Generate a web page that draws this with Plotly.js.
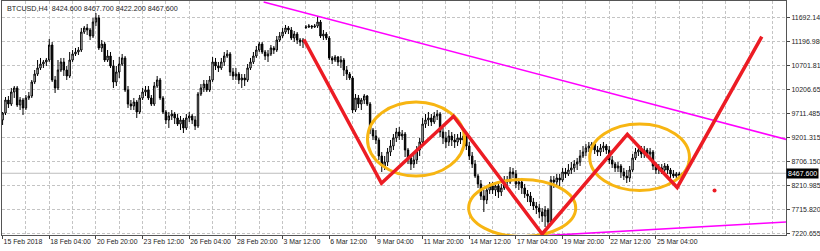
<!DOCTYPE html>
<html>
<head>
<meta charset="utf-8">
<script src="https://cdn.plot.ly/plotly-3.0.1.min.js"></script>
<style>
  html, body { margin: 0; padding: 0; background: #fff; }
  #chart { width: 820px; height: 251px; }
</style>
</head>
<body>
<div id="chart"></div>
<script>
// ---- Instrument ----
const symbol = 'BTCUSD';
const timeframe = 'H4';

// ---- H4 bars (oldest first) ----
const barOpen = [
  9570, 9715, 9984, 9901, 10150, 10233, 9881, 9984, 9819, 10026,
  10067, 10357, 10522, 10647, 10729, 10771, 10812, 11123, 10398, 10233,
  10605, 10771, 10605, 10481, 10812, 10937, 10978, 11019, 11391, 11475,
  11433, 11309, 11599, 11682, 11061, 11143, 10812, 10895, 10688, 10357,
  10564, 10729, 10854, 10191, 9901, 9860, 9943, 9736, 10026, 10150,
  10191, 10026, 9901, 10274, 10398, 10026, 9736, 9570, 9653, 9694,
  9612, 9487, 9570, 9405, 9612, 9653, 9570, 9446, 10108, 10233,
  10315, 10191, 10398, 10771, 10688, 10647, 10771, 10895, 10937, 10564,
  10481, 10522, 10398, 10440, 10398, 10647, 10771, 10895, 11019, 11143,
  10978, 10895, 10937, 11061, 11019, 11226, 11309, 11391, 11475, 11433,
  11267, 11350, 11226, 11185, 11485, 11495, 11516, 11495, 11516, 11599,
  11309, 11350, 11267, 10854, 10812, 10874, 10771, 10812, 10605, 10522,
  10440, 9777, 10026, 9901, 9984, 10067, 9901, 9363, 9239, 9156,
  8825, 8618, 8701, 8908, 9032, 9198, 9322, 9239, 9280, 8949,
  8784, 8659, 8742, 8949, 9115, 9487, 9570, 9612, 9529, 9653,
  9694, 9322, 9198, 9115, 9239, 9156, 9115, 9198, 9156, 9239,
  9032, 8825, 8659, 8411, 8246, 7997, 7914, 8121, 8204, 8121,
  8204, 8080, 8163, 8328, 8287, 8494, 8453, 8246, 8287, 8163,
  8039, 7997, 7873, 7790, 7749, 7666, 7583, 7707, 7459, 8328,
  8287, 8370, 8328, 8494, 8453, 8535, 8577, 8659, 8701, 8825,
  8908, 8991, 9032, 9073, 8949, 8908, 8991, 9032, 8949, 8742,
  8659, 8577, 8618, 8494, 8411, 8370, 8535, 8784, 8908, 8949,
  8866, 8949, 8866, 8908, 8618, 8535, 8577, 8535, 8618, 8535,
  8453, 8411, 8453, 8424.6
];
const barHigh = [
  9736, 10046, 10067, 10233, 10274, 10274, 10046, 10026, 10088, 10150,
  10398, 10605, 10812, 10854, 10812, 10854, 11247, 11185, 10481, 10812,
  10854, 10854, 10688, 10978, 11019, 11061, 11081, 11475, 11516, 11558,
  11475, 11682, 11785, 11744, 11226, 11185, 11019, 10978, 10812, 10688,
  10874, 10937, 10895, 10274, 9984, 10026, 9984, 10088, 10233, 10274,
  10274, 10088, 10357, 10481, 10440, 10067, 9777, 9736, 9777, 9736,
  9694, 9653, 9612, 9694, 9736, 9694, 9653, 10150, 10315, 10398,
  10398, 10481, 10874, 10854, 10771, 10854, 10978, 11019, 10978, 10647,
  10647, 10564, 10522, 10522, 10729, 10854, 10978, 11102, 11185, 11185,
  11019, 11019, 11123, 11102, 11309, 11391, 11475, 11537, 11516, 11495,
  11413, 11391, 11267, 11267, 11537, 11558, 11537, 11558, 11723, 11640,
  11433, 11391, 11309, 10895, 10916, 10895, 10895, 10854, 10688, 10564,
  10481, 10108, 10088, 10026, 10108, 10088, 9943, 9405, 9363, 9198,
  8908, 8825, 8991, 9156, 9280, 9405, 9425, 9363, 9322, 8991,
  8866, 8846, 9032, 9198, 9612, 9694, 9736, 9694, 9736, 9777,
  9736, 9405, 9322, 9363, 9322, 9280, 9280, 9322, 9363, 9280,
  9115, 8908, 8742, 8453, 8328, 8121, 8204, 8287, 8287, 8287,
  8287, 8246, 8411, 8411, 8597, 8577, 8535, 8370, 8370, 8246,
  8121, 8080, 7956, 7873, 7831, 7749, 7790, 7749, 8411, 8411,
  8453, 8453, 8577, 8577, 8659, 8701, 8742, 8784, 8949, 9032,
  9073, 9115, 9115, 9115, 9032, 9073, 9115, 9073, 9032, 8825,
  8701, 8701, 8659, 8577, 8535, 8618, 8866, 8991, 9032, 9032,
  9032, 8991, 8991, 8949, 8701, 8659, 8659, 8680, 8659, 8577,
  8535, 8494, 8494, 8467.7
];
const barLow = [
  9467, 9674, 9819, 9860, 10026, 9839, 9777, 9674, 9777, 9984,
  10026, 10315, 10481, 10605, 10647, 10688, 10771, 10357, 10129, 10191,
  10564, 10481, 10398, 10440, 10771, 10895, 10916, 10978, 11350, 11330,
  11226, 11267, 11516, 11019, 10978, 10771, 10771, 10647, 10233, 10274,
  10440, 10688, 10150, 9819, 9777, 9777, 9612, 9694, 9984, 10067,
  9984, 9860, 9860, 10233, 9984, 9694, 9487, 9405, 9570, 9487,
  9446, 9363, 9301, 9363, 9529, 9487, 9363, 9405, 10067, 10150,
  10150, 10150, 10357, 10605, 10564, 10605, 10688, 10854, 10481, 10398,
  10398, 10315, 10233, 10274, 10357, 10605, 10729, 10854, 10978, 10937,
  10812, 10771, 10895, 10937, 10978, 11185, 11267, 11350, 11350, 11226,
  11185, 11143, 11102, 11061, 11454, 11475, 11454, 11475, 11475, 11267,
  11226, 11226, 10812, 10729, 10771, 10688, 10647, 10481, 10398, 10398,
  9715, 9736, 9819, 9777, 9901, 9860, 9280, 9156, 9073, 8742,
  8494, 8535, 8618, 8825, 8949, 9115, 9156, 9156, 8804, 8659,
  8535, 8577, 8659, 8825, 9073, 9405, 9446, 9446, 9487, 9570,
  9218, 9073, 8991, 9032, 9032, 8991, 9032, 9073, 9115, 8949,
  8742, 8577, 8370, 8163, 7914, 7666, 7831, 8039, 8039, 7997,
  7956, 7997, 8121, 8163, 8246, 8370, 8163, 8121, 8039, 7956,
  7873, 7790, 7707, 7624, 7542, 7459, 7355, 7376, 7417, 8163,
  8204, 8204, 8287, 8370, 8411, 8453, 8494, 8535, 8618, 8784,
  8825, 8908, 8949, 8866, 8825, 8825, 8908, 8866, 8659, 8577,
  8494, 8494, 8370, 8328, 8266, 8287, 8494, 8742, 8825, 8784,
  8784, 8784, 8784, 8535, 8453, 8453, 8453, 8494, 8453, 8370,
  8370, 8370, 8391, 8422.2
];
const barClose = [
  9715, 9984, 9901, 10150, 10233, 9881, 9984, 9819, 10026, 10067,
  10357, 10522, 10647, 10729, 10771, 10812, 11123, 10398, 10233, 10605,
  10771, 10605, 10481, 10812, 10937, 10978, 11019, 11391, 11475, 11433,
  11309, 11599, 11682, 11061, 11143, 10812, 10895, 10688, 10357, 10564,
  10729, 10854, 10191, 9901, 9860, 9943, 9736, 10026, 10150, 10191,
  10026, 9901, 10274, 10398, 10026, 9736, 9570, 9653, 9694, 9612,
  9487, 9570, 9405, 9612, 9653, 9570, 9446, 10108, 10233, 10315,
  10191, 10398, 10771, 10688, 10647, 10771, 10895, 10937, 10564, 10481,
  10522, 10398, 10440, 10398, 10647, 10771, 10895, 11019, 11143, 10978,
  10895, 10937, 11061, 11019, 11226, 11309, 11391, 11475, 11433, 11267,
  11350, 11226, 11185, 11226, 11495, 11516, 11495, 11516, 11599, 11309,
  11350, 11267, 10854, 10812, 10874, 10771, 10812, 10605, 10522, 10440,
  9777, 10026, 9901, 9984, 10067, 9901, 9363, 9239, 9156, 8825,
  8618, 8701, 8908, 9032, 9198, 9322, 9239, 9280, 8949, 8784,
  8659, 8742, 8949, 9115, 9487, 9570, 9612, 9529, 9653, 9694,
  9322, 9198, 9115, 9239, 9156, 9115, 9198, 9156, 9239, 9032,
  8825, 8659, 8411, 8246, 7997, 7914, 8121, 8204, 8121, 8204,
  8080, 8163, 8328, 8287, 8494, 8453, 8246, 8287, 8163, 8039,
  7997, 7873, 7790, 7749, 7666, 7583, 7707, 7459, 8328, 8287,
  8370, 8328, 8494, 8453, 8535, 8577, 8659, 8701, 8825, 8908,
  8991, 9032, 9073, 8949, 8908, 8991, 9032, 8949, 8742, 8659,
  8577, 8618, 8494, 8411, 8370, 8535, 8784, 8908, 8949, 8866,
  8949, 8866, 8908, 8618, 8535, 8577, 8535, 8618, 8535, 8453,
  8411, 8453, 8424.6, 8467.6
];

// ---- Axis labels ----
const priceTicks = [7220.655, 7715.820, 8210.985, 8706.150, 9201.315,
                    9711.485, 10206.650, 10701.815, 11196.980, 11692.145];
const timeTickBars = [0, 16, 32, 48, 64, 80, 96, 112, 128, 144, 160, 176, 192, 208, 224];
const timeTickLabels = ['15 Feb 2018', '18 Feb 04:00', '20 Feb 20:00', '23 Feb 12:00',
  '26 Feb 04:00', '28 Feb 20:00', '3 Mar 12:00', '6 Mar 12:00', '9 Mar 04:00',
  '11 Mar 20:00', '14 Mar 12:00', '17 Mar 04:00', '19 Mar 20:00', '22 Mar 12:00',
  '25 Mar 04:00'];
const gridBars = [8, 24, 40, 56, 72, 88, 104, 120, 136, 152, 168, 184, 200, 216, 232, 240, 248, 256, 264];

// ---- Analysis drawings (bar index, price) ----
const zigzagBars   = [103.3, 129.9, 154.6, 185.0, 214.2, 231.3, 260.3];
const zigzagPrices = [11237, 8260, 9647, 7210, 9274, 8174, 11294];
const ellipseBars   = [[125.1, 158.4], [159.8, 196.5], [201.3, 235.5]];
const ellipsePrices = [[8411, 9943], [7158, 8338], [8111, 9487]];
const resistanceBars   = [89.5, 268.8];
const resistancePrices = [12013, 9166];
const supportBars   = [186.2, 268.8];
const supportPrices = [7177, 7459];
const targetBars   = [244.1];
const targetPrices = [8111];

const barIndex = barClose.map((_, i) => i);
const last = barClose.length - 1;
const lastClose = barClose[last];

const FONT = 'Liberation Sans, Arial, sans-serif';
const GRID = '#c4c4c4';

const traces = [
  {
    type: 'candlestick',
    x: barIndex, open: barOpen, high: barHigh, low: barLow, close: barClose,
    increasing: { line: { color: '#000', width: 1 }, fillcolor: '#fff' },
    decreasing: { line: { color: '#000', width: 1 }, fillcolor: '#000' },
    whiskerwidth: 0,
    hoverinfo: 'skip'
  },
  {
    type: 'scatter', mode: 'markers',
    x: targetBars, y: targetPrices,
    marker: { color: '#ec1c24', size: 4 },
    hoverinfo: 'skip'
  }
];

const shapes = [
  // last price line
  { type: 'line', xref: 'paper', yref: 'y', x0: 0, x1: 1, y0: lastClose, y1: lastClose,
    line: { color: '#bdbdbd', width: 1 }, layer: 'between' },
  // trend channel
  { type: 'line', xref: 'x', yref: 'y',
    x0: resistanceBars[0], x1: resistanceBars[1], y0: resistancePrices[0], y1: resistancePrices[1],
    line: { color: '#ff00ff', width: 1.5 } },
  { type: 'line', xref: 'x', yref: 'y',
    x0: supportBars[0], x1: supportBars[1], y0: supportPrices[0], y1: supportPrices[1],
    line: { color: '#ff00ff', width: 1.5 } }
];
ellipseBars.forEach((b, k) => {
  shapes.push({ type: 'circle', xref: 'x', yref: 'y',
    x0: b[0], x1: b[1], y0: ellipsePrices[k][0], y1: ellipsePrices[k][1],
    line: { color: '#f7b512', width: 3 } });
});
shapes.push({
  type: 'path', xref: 'x', yref: 'y',
  path: 'M ' + zigzagBars.map((b, i) => b + ',' + zigzagPrices[i]).join(' L '),
  line: { color: '#ec1c24', width: 3.5 }
});

const nb = '\u00a0';
const header = symbol + ',' + timeframe + nb + nb +
  [barOpen[last], barHigh[last], barLow[last], barClose[last]].map(v => v.toFixed(3)).join(' ');

const layout = {
  width: 820, height: 251,
  margin: { l: 2, r: 34, t: 1, b: 16, pad: 0 },
  paper_bgcolor: '#fff', plot_bgcolor: '#fff',
  showlegend: false,
  font: { family: FONT, size: 7.2, color: '#1e1e1e' },
  xaxis: {
    range: [-0.2, 268.6],
    rangeslider: { visible: false },
    tickmode: 'array', tickvals: timeTickBars, ticktext: timeTickLabels,
    tickangle: 0,
    tickfont: { family: FONT, size: 6.9, color: '#1e1e1e' },
    ticks: 'outside', ticklen: 3, tickcolor: '#444', tickwidth: 1,
    ticklabelposition: 'outside right',
    showgrid: true, gridcolor: GRID, griddash: '3px,2px', gridwidth: 1,
    minor: { tickvals: gridBars, showgrid: true, gridcolor: GRID, griddash: '3px,2px', ticks: '' },
    showline: true, linecolor: '#555', linewidth: 1, mirror: true,
    zeroline: false, fixedrange: true
  },
  yaxis: {
    side: 'right',
    range: [7189.6, 12033.6],
    tickmode: 'array', tickvals: priceTicks, ticktext: priceTicks.map(v => v.toFixed(3)),
    tickfont: { family: FONT, size: 7, color: '#1e1e1e' },
    ticks: 'outside', ticklen: 3, tickcolor: '#444', tickwidth: 1,
    showgrid: true, gridcolor: GRID, griddash: '3px,2px', gridwidth: 1,
    showline: true, linecolor: '#555', linewidth: 1, mirror: true,
    zeroline: false, fixedrange: true
  },
  shapes: shapes,
  annotations: [
    { xref: 'paper', yref: 'paper', x: 0, y: 1, xanchor: 'left', yanchor: 'top',
      xshift: 3, yshift: -1, showarrow: false, text: header,
      font: { family: FONT, size: 7.2, color: '#1e1e1e' } },
    { xref: 'paper', yref: 'y', x: 1, y: lastClose, xanchor: 'left', yanchor: 'middle',
      showarrow: false, text: lastClose.toFixed(3), bgcolor: '#000', borderpad: 1,
      font: { family: FONT, size: 7, color: '#fff' } }
  ]
};

Plotly.newPlot('chart', traces, layout, { staticPlot: true, displayModeBar: false });
</script>
</body>
</html>
